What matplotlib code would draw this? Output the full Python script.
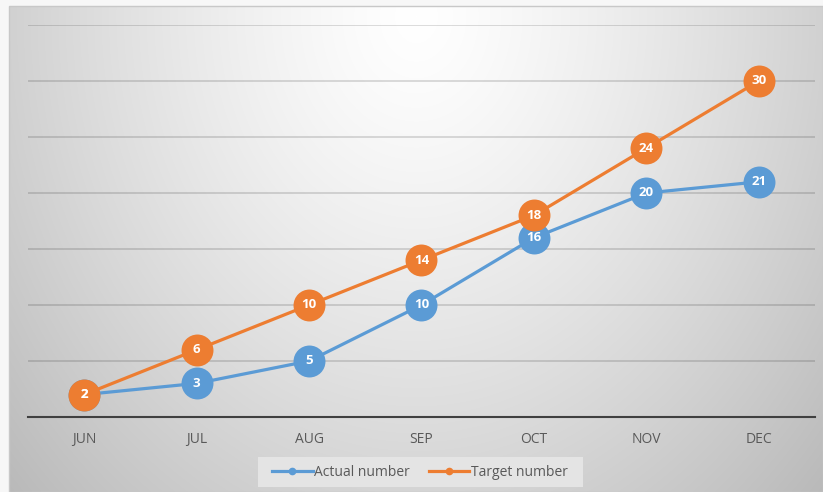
import numpy as np
import matplotlib
matplotlib.use("Agg")
import matplotlib.pyplot as plt
from matplotlib.lines import Line2D
from matplotlib.patches import Rectangle

months = ["JUN", "JUL", "AUG", "SEP", "OCT", "NOV", "DEC"]
actual = [2, 3, 5, 10, 16, 20, 21]
target = [2, 6, 10, 14, 18, 24, 30]

BLUE = "#5B9BD5"
ORANGE = "#ED7D31"
W, H = 823, 492

plt.rcParams['font.family'] = ['Open Sans', 'DejaVu Sans']

fig = plt.figure(figsize=(W / 100, H / 100), dpi=100)
fig.patch.set_facecolor("#f7f7f7")

# gradient background axes (chart area)
x0, y0 = 9, 6  # pixel top-left of chart area
bg = fig.add_axes([x0 / W, 0, (W - x0) / W, (H - y0) / H], zorder=0)
yy, xx = np.mgrid[0:H - y0, 0:W - x0]
cx, cy = (W - x0) / 2, 10
r = np.sqrt(((xx - cx) / 420.0) ** 2 + ((yy - cy) / 520.0) ** 2)
val = np.clip(255 - 48 * r ** 1.3, 180, 255) / 255.0
img = np.dstack([val, val, val])
bg.imshow(img, aspect='auto', extent=[0, 1, 0, 1], origin='upper')
bg.set_xlim(0, 1); bg.set_ylim(0, 1)
bg.axis('off')
fig.patches.append(Rectangle((x0 / W, 0), (W - x0) / W, (H - y0) / H,
                             transform=fig.transFigure, fill=False,
                             edgecolor="#c8c8c8", linewidth=1.0, zorder=1))

# legend background box
fig.patches.append(Rectangle((258 / W, (H - 487) / H), 325 / W, 30 / H,
                             transform=fig.transFigure, facecolor="#e4e4e4",
                             edgecolor="none", zorder=1.5))

# main axes
left, right = 28, 815
bot, top = 417, 25
ax = fig.add_axes([left / W, (H - bot) / H, (right - left) / W, (bot - top) / H], zorder=2)
ax.patch.set_alpha(0)
x = np.arange(len(months))
ax.set_xlim(-0.5, len(months) - 0.5)
ax.set_ylim(0, 35)
ax.set_yticks(np.arange(5, 36, 5))
ax.yaxis.grid(True, color="black", alpha=0.16, linewidth=1.2)
ax.set_axisbelow(True)
ax.tick_params(axis='y', left=False, labelleft=False)
ax.tick_params(axis='x', bottom=False, pad=7, labelsize=10, labelcolor="#595959")
ax.set_xticks(x)
ax.set_xticklabels(months)
for s in ['top', 'right', 'left']:
    ax.spines[s].set_visible(False)
ax.spines['bottom'].set_color("#404040")
ax.spines['bottom'].set_linewidth(1.5)

ms = 23
ax.plot(x, actual, color=BLUE, linewidth=2.3, marker='o', markersize=ms,
        markeredgewidth=0, zorder=3, clip_on=False)
ax.plot(x, target, color=ORANGE, linewidth=2.3, marker='o', markersize=ms,
        markeredgewidth=0, zorder=4, clip_on=False)
for xi, v in zip(x, actual):
    ax.text(xi, v, str(v), color="white", fontsize=9.5, fontweight='bold',
            ha='center', va='center', zorder=5)
for xi, v in zip(x, target):
    ax.text(xi, v, str(v), color="white", fontsize=9.5, fontweight='bold',
            ha='center', va='center', zorder=6)

handles = [Line2D([0], [0], color=BLUE, linewidth=2.3, marker='o', markersize=4.5),
           Line2D([0], [0], color=ORANGE, linewidth=2.3, marker='o', markersize=4.5)]
leg = fig.legend(handles, ["Actual number", "Target number"], loc='center',
                 bbox_to_anchor=(420 / W, (H - 472) / H), ncol=2, frameon=False,
                 fontsize=10, handlelength=2.9, handletextpad=0.1, columnspacing=1.4,
                 borderpad=0.3, borderaxespad=0, labelcolor="#595959")

fig.savefig("out.png", dpi=100, facecolor=fig.get_facecolor())
